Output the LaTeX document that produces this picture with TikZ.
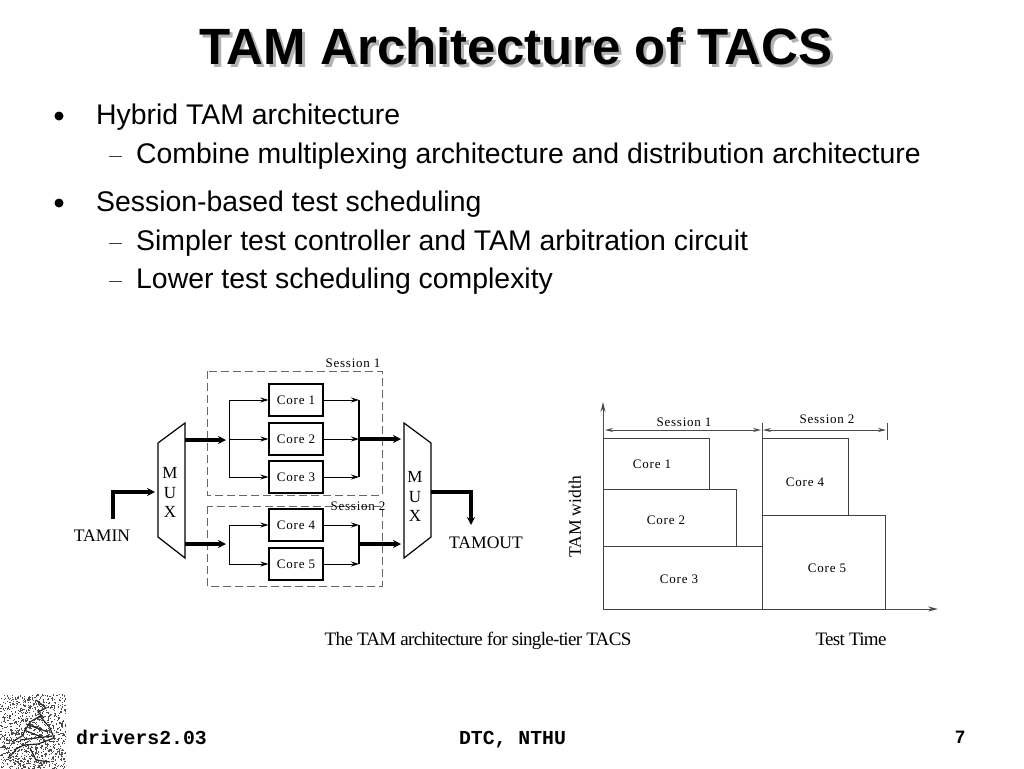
\documentclass[tikz,border=0pt]{standalone}
\usepackage{fontspec}
\usetikzlibrary{arrows.meta}
\setmainfont{Liberation Sans}
\newfontfamily\figfont[LetterSpace=6]{Liberation Serif}
\newfontfamily\labfont{Liberation Serif}
\newfontfamily\capfont[LetterSpace=-3.5]{Liberation Serif}
\newfontfamily\footfont{Liberation Mono}
\tikzset{
  bodytext/.style={anchor=base west,inner sep=0,font=\fontsize{28.4}{32}\selectfont},
  titletext/.style={anchor=base,inner sep=0,font=\fontsize{51}{55}\selectfont\bfseries},
  corebox/.style={draw,line width=1.1pt,minimum width=54,minimum height=32,inner sep=0,font=\fontsize{13}{15}\figfont},
  figtext/.style={inner sep=0,font=\fontsize{13}{15}\figfont},
  muxtext/.style={inner sep=0,font=\fontsize{17}{19}\labfont},
  portext/.style={inner sep=0,font=\fontsize{17.6}{19}\labfont},
  captext/.style={inner sep=0,font=\fontsize{19}{21}\capfont},
  foottext/.style={anchor=base,inner sep=0,font=\fontsize{19.8}{22}\footfont\bfseries},
  sessionbox/.style={draw=black!60,line width=1pt,dash pattern=on 8pt off 4pt},
  thinarrow/.style={-{Stealth[length=8pt,width=5pt]},line width=1pt},
  thickarrow/.style={-{Stealth[length=8pt,width=8pt]},line width=3.5pt},
  chartbox/.style={draw=black!75,line width=1pt},
  axisarrow/.style={-{Stealth[length=10pt,width=5pt]},line width=1pt,draw=black!70},
  spanarrow/.style={{Stealth[length=8pt,width=4pt]}-{Stealth[length=8pt,width=4pt]},line width=.8pt,draw=black!70}
}
\begin{document}
\begin{tikzpicture}[x=1pt,y=-1pt]
  \useasboundingbox (0,0) rectangle (1024,768);
  % heading
  \node[titletext,text=black!30] (headshadow) at (519,67) {TAM Architecture of TACS};
  \node[titletext] (head) at (516,64) {TAM Architecture of TACS};
  % bullets
  \fill (59,116) circle (4.5);
  \fill (59,203) circle (4.5);
  \draw[line width=1pt,black!75] (109,156)--(122,156);
  \draw[line width=1pt,black!75] (109,243)--(122,243);
  \draw[line width=1pt,black!75] (109,281)--(122,281);
  \node[bodytext] (lineA) at (96,124) {Hybrid TAM architecture};
  \node[bodytext] (lineB) at (136,163) {Combine multiplexing architecture and distribution architecture};
  \node[bodytext] (lineC) at (96,211) {Session-based test scheduling};
  \node[bodytext] (lineD) at (136,250) {Simpler test controller and TAM arbitration circuit};
  \node[bodytext] (lineE) at (136,288) {Lower test scheduling complexity};
  % session frames
  \draw[sessionbox] (207,371) rectangle (382,495);
  \draw[sessionbox] (207,506) rectangle (382,586);
  \node[figtext] (sessA) at (353,363) {Session 1};
  \node[figtext] (sessB) at (358,506) {Session 2};
  % cores
  \node[corebox] (coreA) at (296,400) {Core 1};
  \node[corebox] (coreB) at (296,439) {Core 2};
  \node[corebox] (coreC) at (296,477) {Core 3};
  \node[corebox] (coreD) at (296,525) {Core 4};
  \node[corebox] (coreE) at (296,564) {Core 5};
  % muxes
  \draw[line width=1.2pt] (185,423)--(158,443)--(158,537)--(185,558)--cycle;
  \draw[line width=1.2pt] (404,423)--(431,443)--(431,537)--(404,558)--cycle;
  \node[muxtext] (muxA) at (170,473) {M};
  \node[muxtext] (muxB) at (170,493) {U};
  \node[muxtext] (muxC) at (170,512) {X};
  \node[muxtext] (muxD) at (415,477) {M};
  \node[muxtext] (muxE) at (415,497) {U};
  \node[muxtext] (muxF) at (415,516) {X};
  \coordinate (muxinA) at (185,440);
  \coordinate (muxinB) at (185,544);
  \coordinate (splitA) at (226,440);
  \coordinate (splitB) at (226,544);
  \coordinate (joinA) at (359,439);
  \coordinate (joinB) at (359,544);
  \coordinate (muxoutA) at (401,439);
  \coordinate (muxoutB) at (401,544);
  \coordinate (railA) at (229,440);
  \coordinate (railB) at (229,544);
  \draw[thickarrow] (muxinA)--(splitA);
  \draw[thickarrow] (muxinB)--(splitB);
  \draw[line width=1pt] (coreA-|railA)--(coreC-|railA);
  \draw[line width=1pt] (coreD-|railB)--(coreE-|railB);
  \draw[thinarrow] (coreA-|railA)--(coreA);
  \draw[thinarrow] (coreB-|railA)--(coreB);
  \draw[thinarrow] (coreC-|railA)--(coreC);
  \draw[thinarrow] (coreD-|railB)--(coreD);
  \draw[thinarrow] (coreE-|railB)--(coreE);
  \draw[thinarrow] (coreA)--(coreA-|joinA);
  \draw[thinarrow] (coreB)--(coreB-|joinA);
  \draw[thinarrow] (coreC)--(coreC-|joinA);
  \draw[thinarrow] (coreD)--(coreD-|joinB);
  \draw[thinarrow] (coreE)--(coreE-|joinB);
  \draw[line width=2pt] (coreA-|joinA)--(coreC-|joinA);
  \draw[line width=2pt] (coreD-|joinB)--(coreE-|joinB);
  \draw[thickarrow] (joinA)--(muxoutA);
  \draw[thickarrow] (joinB)--(muxoutB);
  % ports
  \node[portext] (tamin) at (102,536) {TAMIN};
  \node[portext] (tamout) at (486,543) {TAMOUT};
  \coordinate (tamstart) at (113,519);
  \coordinate (tamturn) at (113,492);
  \coordinate (tammux) at (155,492);
  \coordinate (tamexit) at (431,492);
  \coordinate (tamend) at (471,525);
  \draw[thickarrow] (tamstart)--(tamturn)--(tammux);
  \draw[thickarrow] (tamexit)-|(tamend);
  % schedule chart
  \coordinate (origin) at (603,609);
  \coordinate (ytop) at (603,402);
  \coordinate (xend) at (938,609);
  \draw[axisarrow] (origin)--(ytop);
  \draw[axisarrow] (origin)--(xend);
  \draw[chartbox] (603,438) rectangle (709,489);
  \draw[chartbox] (603,489) rectangle (736,546);
  \draw[chartbox] (603,546) rectangle (762,609);
  \draw[chartbox] (762,438) rectangle (848,515);
  \draw[chartbox] (762,515) rectangle (885,609);
  \node[figtext] (slotA) at (652,464) {Core 1};
  \node[figtext] (slotB) at (666,520) {Core 2};
  \node[figtext] (slotC) at (679,579) {Core 3};
  \node[figtext] (slotD) at (805,482) {Core 4};
  \node[figtext] (slotE) at (827,568) {Core 5};
  \coordinate (spanA) at (605,430);
  \coordinate (spanB) at (761,430);
  \coordinate (spanC) at (763,430);
  \coordinate (spanD) at (886,430);
  \draw[spanarrow] (spanA)--(spanB);
  \draw[spanarrow] (spanC)--(spanD);
  \draw[line width=.8pt,draw=black!70] (762,423)--(762,438);
  \draw[line width=.8pt,draw=black!70] (887,423)--(887,440);
  \node[figtext] (spanlabA) at (684,422) {Session 1};
  \node[figtext] (spanlabB) at (827,419) {Session 2};
  \node[inner sep=0,rotate=90,font=\fontsize{17.5}{19}\labfont] (yname) at (575,517) {TAM width};
  \node[captext] (capA) at (478,641) {The TAM architecture for single-tier TACS};
  \node[captext] (capB) at (851,639) {Test Time};
  % footer
  \begin{scope}
    \clip (0,694) rectangle (66,768);
    \pgfmathsetseed{7}
    \foreach \i in {1,...,1000}{
      \pgfmathsetmacro{\dotx}{rnd*66}
      \pgfmathsetmacro{\doty}{694+rnd*74}
      \fill[black!70] (\dotx,\doty) rectangle +(1.2,1.2);
    }
    \draw[line width=1.2pt,black!85] (12,742)--(22,736)--(30,722)--(40,716)--(50,728)--(54,738)--(38,744)--(24,745)--(14,750);
    \draw[line width=1.2pt,black!85] (24,730)--(44,738);
    \draw[line width=1.2pt,black!85] (26,724)--(48,732);
    \draw[line width=1.2pt,black!85] (20,740)--(52,736);
    \draw[line width=1.2pt,black!85] (36,700)--(46,708)--(38,712)--(44,718);
    \draw[line width=1.2pt,black!85] (30,748)--(36,760)--(50,762);
    \draw[line width=1.2pt,black!85] (8,758)--(16,750);
  \end{scope}
  \node[foottext] (footA) at (141.5,744) {drivers2.03};
  \node[foottext] (footB) at (512.5,744) {DTC, NTHU};
  \node[anchor=base,inner sep=0,font=\fontsize{18}{20}\selectfont\bfseries] (pagenum) at (960,743) {7};
\end{tikzpicture}
\end{document}
